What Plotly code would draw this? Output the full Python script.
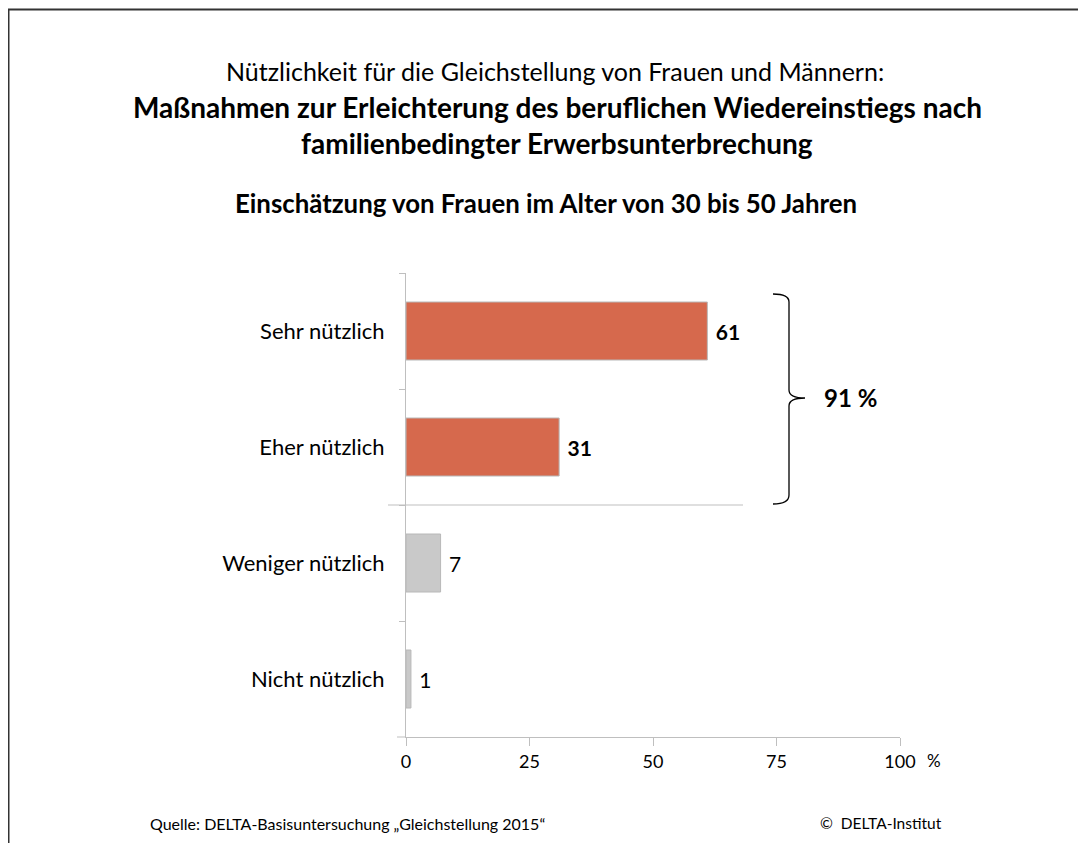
import plotly.graph_objects as go

categories = ["Sehr nützlich", "Eher nützlich", "Weniger nützlich", "Nicht nützlich"]
values = [61, 31, 7, 1]
bold_flags = [True, True, False, False]
bar_colors = ["#D6694D", "#D6694D", "#C9C9C9", "#C9C9C9"]
x_ticks = [0, 25, 50, 75, 100]
total_label = "91 %"

FONT = "Lato, Carlito, 'Open Sans', sans-serif"
OFF = 8                      # browser body margin
W, H = 1086 - 2 * OFF, 857 - 2 * OFF - 6
# plot area in page pixels
L, R, T, B = 406, 900, 273, 737


def px(xp):
    return (xp - L) / (R - L)


def py(yp):
    return (B - yp) / (B - T)


labels = [f"<b>{v}</b>" if b else f"{v}" for v, b in zip(values, bold_flags)]

fig = go.Figure()
fig.add_trace(go.Bar(
    x=values, y=categories, orientation="h",
    marker=dict(color=bar_colors, line=dict(color="#B8B8B8", width=1)),
    width=0.5,
    text=labels, textposition="outside", texttemplate=" %{text}",
    textfont=dict(family=FONT, size=21, color="#000000"),
    cliponaxis=False, hoverinfo="skip",
))

fig.update_layout(
    width=W, height=H,
    margin=dict(l=L - OFF, r=W - (R - OFF), t=T - OFF, b=H - (B - OFF)),
    paper_bgcolor="white", plot_bgcolor="white",
    showlegend=False,
    font=dict(family=FONT, size=18, color="#000000"),
    xaxis=dict(range=[0, 100], tickvals=x_ticks, showgrid=False, zeroline=False,
               showline=True, linecolor="#BFBFBF", linewidth=1,
               ticks="outside", ticklen=8, tickcolor="#BFBFBF",
               tickfont=dict(family=FONT, size=18), fixedrange=True),
    yaxis=dict(categoryorder="array", categoryarray=categories, range=[3.5, -0.5],
               showgrid=False, zeroline=False, showline=True, linecolor="#BFBFBF",
               linewidth=1, ticks="outside", ticklen=6, tickcolor="#BFBFBF",
               tickson="boundaries", ticklabelstandoff=16,
               tickfont=dict(family=FONT, size=22)),
)

shapes = []
# separator line between useful and less useful
shapes.append(dict(type="line", xref="paper", yref="paper",
                   x0=px(388), x1=px(743), y0=py(505), y1=py(505),
                   line=dict(color="#BFBFBF", width=1)))
# x axis line extension to the left
shapes.append(dict(type="line", xref="paper", yref="paper",
                   x0=px(397), x1=px(406), y0=py(737), y1=py(737),
                   line=dict(color="#BFBFBF", width=1)))
# curly brace
pts = [(773, 294), (789, 294), (789, 302), (789, 390), (789, 398), (805, 398),
       (789, 398), (789, 406), (789, 495), (789, 504), (773, 504)]
P = [(px(a), py(b)) for a, b in pts]
path = (f"M {P[0][0]} {P[0][1]} Q {P[1][0]} {P[1][1]} {P[2][0]} {P[2][1]} "
        f"L {P[3][0]} {P[3][1]} Q {P[4][0]} {P[4][1]} {P[5][0]} {P[5][1]} "
        f"Q {P[6][0]} {P[6][1]} {P[7][0]} {P[7][1]} L {P[8][0]} {P[8][1]} "
        f"Q {P[9][0]} {P[9][1]} {P[10][0]} {P[10][1]}")
shapes.append(dict(type="path", xref="paper", yref="paper", path=path,
                   line=dict(color="#000000", width=1.3)))
# frame lines (left and top)
shapes.append(dict(type="line", xref="paper", yref="paper",
                   x0=px(8.5), x1=px(8.5), y0=py(9), y1=py(H + OFF),
                   line=dict(color="#333333", width=2)))
shapes.append(dict(type="line", xref="paper", yref="paper",
                   x0=px(7.5), x1=px(W + OFF), y0=py(9.5), y1=py(9.5),
                   line=dict(color="#333333", width=2)))
fig.update_layout(shapes=shapes)

ann = []


def add_text(text, x, y, size, bold=False, xanchor="center", color="#000000"):
    t = f"<b>{text}</b>" if bold else text
    ann.append(dict(text=t, x=px(x), y=py(y), xref="paper", yref="paper",
                    xanchor=xanchor, yanchor="middle", showarrow=False,
                    font=dict(family=FONT, size=size, color=color)))


add_text("Nützlichkeit für die Gleichstellung von Frauen und Männern:", 555, 71, 25)
add_text("Maßnahmen zur Erleichterung des beruflichen Wiedereinstiegs nach", 557, 107, 28, bold=True)
add_text("familienbedingter Erwerbsunterbrechung", 557, 143, 28, bold=True)
add_text("Einschätzung von Frauen im Alter von 30 bis 50 Jahren", 546, 203, 25.8, bold=True)
add_text(total_label, 822, 397, 24, bold=True, xanchor="left")
add_text("%", 925, 760, 17, xanchor="left")
add_text("Quelle: DELTA-Basisuntersuchung „Gleichstellung 2015“", 148, 823, 16, xanchor="left")
add_text("©  DELTA-Institut", 818, 823, 15.5, xanchor="left")
fig.update_layout(annotations=ann)

fig.write_html("out.html")
